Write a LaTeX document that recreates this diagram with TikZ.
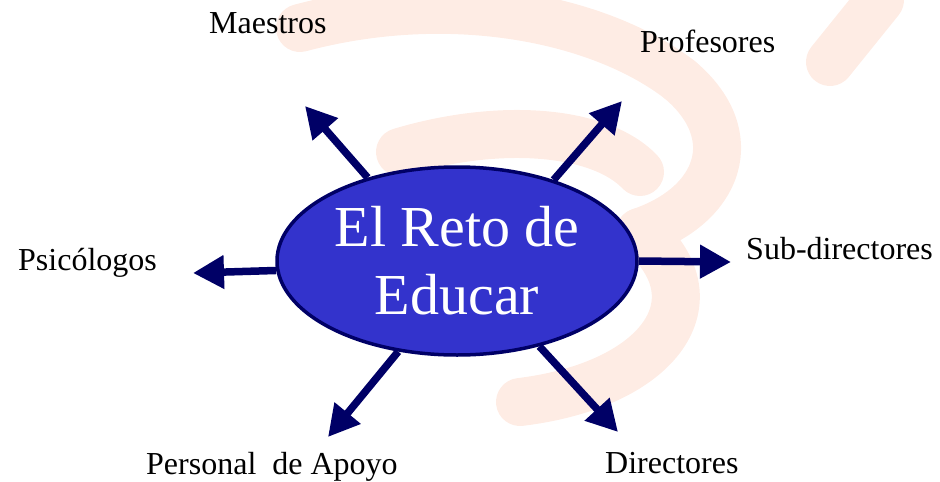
\documentclass[tikz,border=0pt]{standalone}
\usepackage{fontspec}
\setmainfont{Liberation Serif}
\usetikzlibrary{arrows.meta,shapes.geometric}
\definecolor{navy}{RGB}{0,0,102}
\definecolor{ovalfill}{RGB}{51,51,204}
\definecolor{wmark}{RGB}{254,236,228}
\tikzset{
  hub/.style={ellipse,draw=navy,line width=3.5pt,fill=ovalfill,minimum width=360pt,minimum height=188pt,inner sep=0pt,
    text=white,align=center,font=\fontsize{58}{68}\selectfont},
  lbl/.style={anchor=base west,inner sep=0pt,font=\fontsize{32}{38}\selectfont,text=black},
  spoke/.style={draw=navy,line width=7.5pt,-{Triangle[length=31pt,width=32pt]}},
  brush/.style={draw=wmark,line width=48pt,line cap=round,line join=round}
}
\begin{document}
\begin{tikzpicture}[x=1pt,y=-1pt]
\useasboundingbox (0,0) rectangle (940,482);
% faint background watermark
\draw[brush] (300,28) .. controls (450,-12) and (600,18) .. (680,80);
\draw[brush] (680,80) .. controls (745,135) and (720,205) .. (640,232);
\draw[brush] (400,152) .. controls (500,122) and (600,130) .. (640,172);
\draw[brush] (640,232) .. controls (720,300) and (660,385) .. (520,402);
\draw[brush] (830,62) -- (880,0);
% hub
\node[hub] (E) at (457,261) {El Reto de\\Educar};
% end points of connectors
\coordinate (tM) at (305,106);
\coordinate (tP) at (622,101);
\coordinate (tS) at (731,262);
\coordinate (tPs) at (193,273);
\coordinate (tA) at (328,437);
\coordinate (tD) at (618,432);
\draw[spoke] (E.137) -- (tM);
\draw[spoke] (E.40) -- (tP);
\draw[spoke] (E.0) -- (tS);
\draw[spoke] (E.183.5) -- (tPs);
\draw[spoke] (E.237) -- (tA);
\draw[spoke] (E.314) -- (tD);
% labels
\node[lbl] (lM) at (209,33) {Maestros};
\node[lbl] (lP) at (640,52) {Profesores};
\node[lbl] (lS) at (746,259) {Sub-directores};
\node[lbl] (lPs) at (18,270) {Psicólogos};
\node[lbl] (lA) at (146,474) {Personal\ \ de Apoyo};
\node[lbl] (lD) at (605,473) {Directores};
\end{tikzpicture}
\end{document}
